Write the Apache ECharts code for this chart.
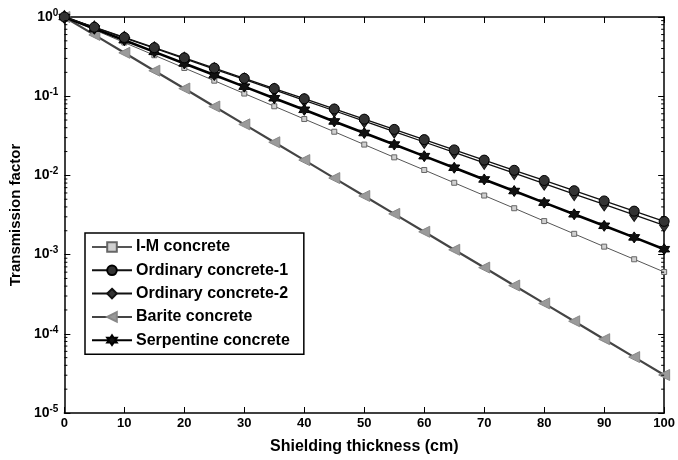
<!DOCTYPE html>
<html>
<head>
<meta charset="utf-8">
<script src="https://cdn.jsdelivr.net/npm/echarts@6/dist/echarts.min.js"></script>
<style>
html,body{margin:0;padding:0;background:#fff;}
#c{width:678px;height:460px;}
</style>
</head>
<body>
<div id="c"></div>
<script>
// Shielding thickness (cm)
var thickness = [0,5,10,15,20,25,30,35,40,45,50,55,60,65,70,75,80,85,90,95,100];
// Transmission factors
var imConcrete = [1,0.690,0.476,0.329,0.227,0.157,0.108,0.0746,0.0515,0.0356,0.0245,0.0169,0.0117,0.00807,0.00557,0.00385,0.00265,0.00183,0.00126,0.000873,0.000603];
var ordinary1 = [1,0.743,0.552,0.410,0.305,0.2265,0.168,0.125,0.0929,0.0690,0.0513,0.0381,0.0283,0.0210,0.0156,0.0116,0.00863,0.00641,0.00476,0.00354,0.00263];
var ordinary2 = [1,0.739,0.546,0.403,0.298,0.220,0.163,0.120,0.0887,0.0655,0.0484,0.0358,0.0264,0.0195,0.0144,0.0107,0.00787,0.00581,0.00430,0.00317,0.00234];
var barite = [1,0.594,0.353,0.210,0.125,0.0741,0.0441,0.0262,0.0156,0.00925,0.00550,0.00327,0.00194,0.00115,0.000686,0.000407,0.000242,0.000144,0.0000855,0.0000508,0.0000302];
var serpentine = [1,0.714,0.509,0.363,0.259,0.185,0.132,0.0943,0.0673,0.0480,0.0343,0.0245,0.0175,0.0125,0.00889,0.00635,0.00453,0.00323,0.00231,0.00165,0.00117];
var seriesNames = ['I-M concrete','Ordinary concrete-1','Ordinary concrete-2','Barite concrete','Serpentine concrete'];
// y-axis decades (exponents) and minor tick multipliers
var decadeExps = [-5,-4,-3,-2,-1,0];
var minorMults = [2,3,4,5,6,7,8,9];

var minorTicks = [];
decadeExps.slice(0, -1).forEach(function (e) {
  minorMults.forEach(function (m) { minorTicks.push([0, m * Math.pow(10, e)]); });
});

function pairs(arr) { return thickness.map(function (x, i) { return [x, arr[i]]; }); }

var FONT = '"Liberation Sans", Arial, sans-serif';
var star = 'path://M0,-10 L2.9,-5 L8.66,-5 L5.8,0 L8.66,5 L2.9,5 L0,10 L-2.9,5 L-8.66,5 L-5.8,0 L-8.66,-5 L-2.9,-5 Z';

var chart = echarts.init(document.getElementById('c'), null, {renderer: 'canvas'});
var axisLine = {show: true, onZero: false, lineStyle: {color: '#000', width: 1.5}};
var tick = {inside: true, length: 6, lineStyle: {color: '#000', width: 1}};
chart.setOption({
  animation: false,
  backgroundColor: '#fff',
  textStyle: {fontFamily: FONT},
  grid: {left: 63, right: 11, top: 17, bottom: 42},
  legend: {
    data: seriesNames,
    orient: 'vertical',
    left: 85, top: 233,
    itemWidth: 40, itemHeight: 12, itemGap: 7.3,
    padding: [6, 14, 6, 6],
    borderColor: '#000', borderWidth: 1.5,
    backgroundColor: '#fff',
    textStyle: {fontFamily: FONT, fontSize: 16, fontWeight: 'bold', color: '#000', lineHeight: 16, padding: [0,0,0,-1]}
  },
  xAxis: [{
    type: 'value', min: 0, max: 100, interval: 10,
    name: 'Shielding thickness (cm)', nameLocation: 'middle', nameGap: 26,
    nameTextStyle: {fontFamily: FONT, fontSize: 16, fontWeight: 'bold', color: '#000'},
    axisLine: axisLine, axisTick: tick,
    axisLabel: {fontFamily: FONT, fontSize: 13, fontWeight: 'bold', color: '#000', margin: 4},
    splitLine: {show: false}
  }, {
    type: 'value', min: 0, max: 100, interval: 10, position: 'top',
    axisLine: axisLine, axisTick: tick,
    axisLabel: {show: false}, splitLine: {show: false}
  }],
  yAxis: [{
    type: 'log', logBase: 10, min: 1e-5, max: 1,
    name: 'Transmission factor', nameLocation: 'middle', nameGap: 36,
    nameTextStyle: {fontFamily: FONT, fontSize: 15, fontWeight: 'bold', color: '#000'},
    axisLine: axisLine, axisTick: tick,
    axisLabel: {
      margin: 6,
      formatter: function (v) {
        var e = Math.round(Math.log10(v));
        return '{b|10}{s|' + e + '}';
      },
      rich: {
        b: {fontFamily: FONT, fontSize: 14, fontWeight: 'bold', color: '#000', lineHeight: 18},
        s: {fontFamily: FONT, fontSize: 10, fontWeight: 'bold', color: '#000', verticalAlign: 'top', lineHeight: 12}
      }
    },
    splitLine: {show: false}
  }, {
    type: 'log', logBase: 10, min: 1e-5, max: 1, position: 'right',
    axisLine: axisLine, axisTick: tick,
    axisLabel: {show: false}, splitLine: {show: false}
  }],
  series: [{
    name: 'I-M concrete', type: 'line', data: pairs(imConcrete), z: 3,
    symbol: 'rect', symbolSize: 5,
    lineStyle: {color: '#555', width: 1},
    itemStyle: {color: '#d0d0d0', borderColor: '#666', borderWidth: 1}
  }, {
    name: 'Ordinary concrete-2', type: 'line', data: pairs(ordinary2), z: 4,
    symbol: 'diamond', symbolSize: [9, 13],
    lineStyle: {color: '#111', width: 1.3},
    itemStyle: {color: '#333', borderColor: '#111', borderWidth: 1}
  }, {
    name: 'Ordinary concrete-1', type: 'line', data: pairs(ordinary1), z: 5,
    symbol: 'circle', symbolSize: 10,
    lineStyle: {color: '#111', width: 1.3},
    itemStyle: {color: '#333', borderColor: '#000', borderWidth: 1}
  }, {
    name: 'Barite concrete', type: 'line', data: pairs(barite), z: 3,
    symbol: 'triangle', symbolRotate: 90, symbolSize: 11,
    lineStyle: {color: '#444', width: 2.2},
    itemStyle: {color: '#9a9a9a', borderColor: '#888', borderWidth: 1}
  }, {
    name: 'Serpentine concrete', type: 'line', data: pairs(serpentine), z: 4,
    symbol: star, symbolSize: 11,
    lineStyle: {color: '#000', width: 2.6},
    itemStyle: {color: '#111', borderColor: '#000', borderWidth: 1}
  }, {
    name: 'minorTicks', type: 'custom', data: minorTicks, silent: true, z: 10,
    renderItem: function (params, api) {
      var v = api.value(1);
      var l = api.coord([0, v]);
      var r = api.coord([100, v]);
      return {type: 'group', children: [
        {type: 'line', shape: {x1: l[0], y1: l[1], x2: l[0] + 3, y2: l[1]}, style: {stroke: '#000', lineWidth: 1}},
        {type: 'line', shape: {x1: r[0], y1: r[1], x2: r[0] - 3, y2: r[1]}, style: {stroke: '#000', lineWidth: 1}}
      ]};
    }
  }]
});
</script>
</body>
</html>
